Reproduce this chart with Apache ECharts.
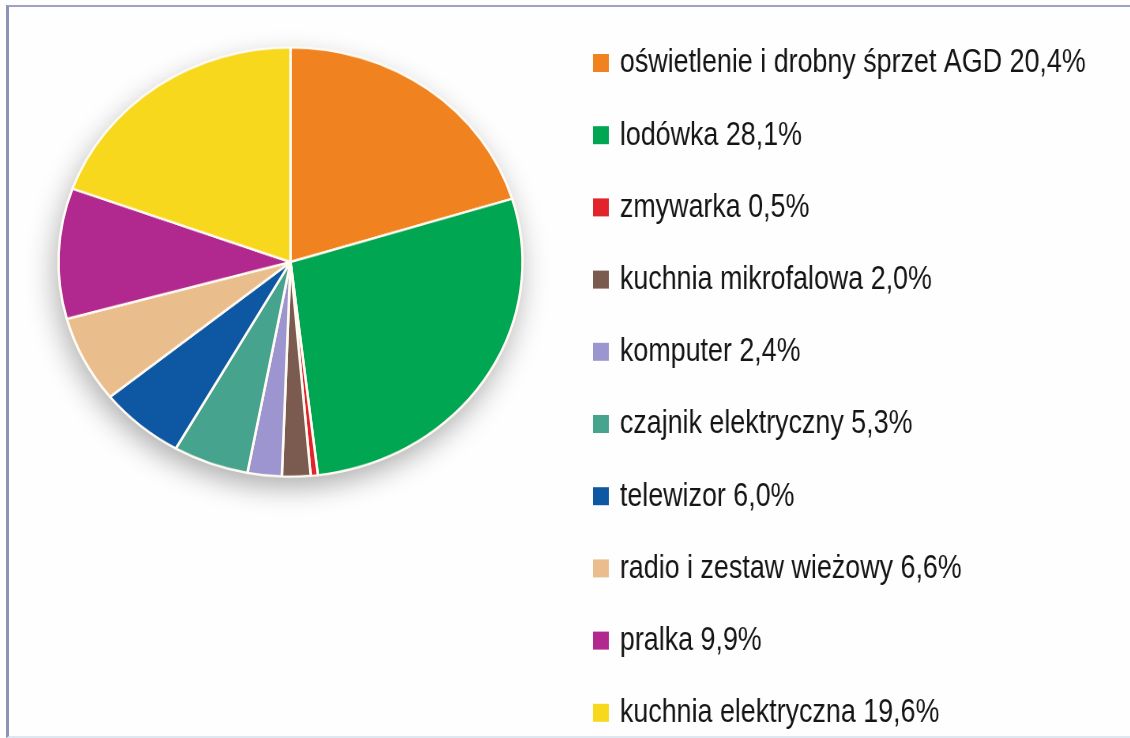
<!DOCTYPE html>
<html>
<head>
<meta charset="utf-8">
<script src="https://cdn.jsdelivr.net/npm/echarts@6/dist/echarts.min.js"></script>
<style>
html,body{margin:0;padding:0;background:#fefefe;}
#wrap{position:relative;width:1130px;height:738px;overflow:hidden;background:#fefefe;}
#frame{position:absolute;left:6px;top:5px;width:1130px;height:729px;border-left:3px solid #8e91b8;border-top:2px solid #9ea3c6;border-bottom:2px solid #dfe7f0;}
#pie{position:absolute;left:0;top:0;width:1130px;height:738px;transform:scaleY(0.925);transform-origin:0 262px;}
#leg{position:absolute;left:0;top:0;width:1700px;height:780px;transform:scaleX(0.79);transform-origin:593px 0;}
</style>
</head>
<body>
<div id="wrap">
  <div id="frame"></div>
  <div id="pie"></div>
  <div id="leg"></div>
</div>
<script>
const categories = [
  'oświetlenie i drobny śprzet AGD',
  'lodówka',
  'zmywarka',
  'kuchnia mikrofalowa',
  'komputer',
  'czajnik elektryczny',
  'telewizor',
  'radio i zestaw wieżowy',
  'pralka',
  'kuchnia elektryczna'
];
const shares = [20.4, 28.1, 0.5, 2.0, 2.4, 5.3, 6.0, 6.6, 9.9, 19.6];
const colors = ['#f0821f', '#00a651', '#e2232b', '#7b5a4f', '#9d95cf', '#45a38e', '#0d57a3', '#e9be8c', '#b1288e', '#f7d81d'];

const fmt = v => v.toFixed(1).replace('.', ',');
const valueByName = {};
categories.forEach((n, i) => valueByName[n] = shares[i]);
const pieData = categories.map((n, i) => ({ name: n, value: shares[i] }));

// Pie (drawn in a vertically squeezed layer to reproduce the slightly elliptical disc)
const pie = echarts.init(document.getElementById('pie'));
pie.setOption({
  animation: false,
  series: [
    {
      type: 'pie',
      silent: true,
      center: [290.5, 262],
      radius: [0, 232],
      z: 1,
      label: { show: false },
      labelLine: { show: false },
      itemStyle: {
        color: '#ffffff',
        shadowBlur: 30,
        shadowOffsetX: -3,
        shadowOffsetY: 12,
        shadowColor: 'rgba(0,0,0,0.32)'
      },
      data: [{ value: 1, name: 'shadow' }]
    },
    {
      type: 'pie',
      silent: true,
      center: [290.5, 262],
      radius: [0, 232],
      startAngle: 90,
      clockwise: true,
      z: 2,
      label: { show: false },
      labelLine: { show: false },
      itemStyle: { borderColor: '#fffaf2', borderWidth: 2.5 },
      color: colors,
      data: pieData
    }
  ]
});

// Legend (drawn in a horizontally condensed layer to reproduce the narrow typeface)
const leg = echarts.init(document.getElementById('leg'));
leg.setOption({
  animation: false,
  color: colors,
  legend: {
    orient: 'vertical',
    left: 593,
    top: 43,
    padding: 0,
    icon: 'rect',
    itemWidth: 20,
    itemHeight: 18,
    itemGap: 32.2,
    selectedMode: false,
    data: categories,
    formatter: n => n + ' ' + fmt(valueByName[n]) + '%',
    textStyle: {
      fontFamily: '"Liberation Sans", Arial, sans-serif',
      fontSize: 34,
      lineHeight: 40,
      color: '#151515',
      padding: [0, 0, 0, 9]
    }
  },
  series: [
    {
      type: 'pie',
      silent: true,
      center: [-500, -500],
      radius: [0, 1],
      label: { show: false },
      labelLine: { show: false },
      data: pieData
    }
  ]
});
</script>
</body>
</html>
